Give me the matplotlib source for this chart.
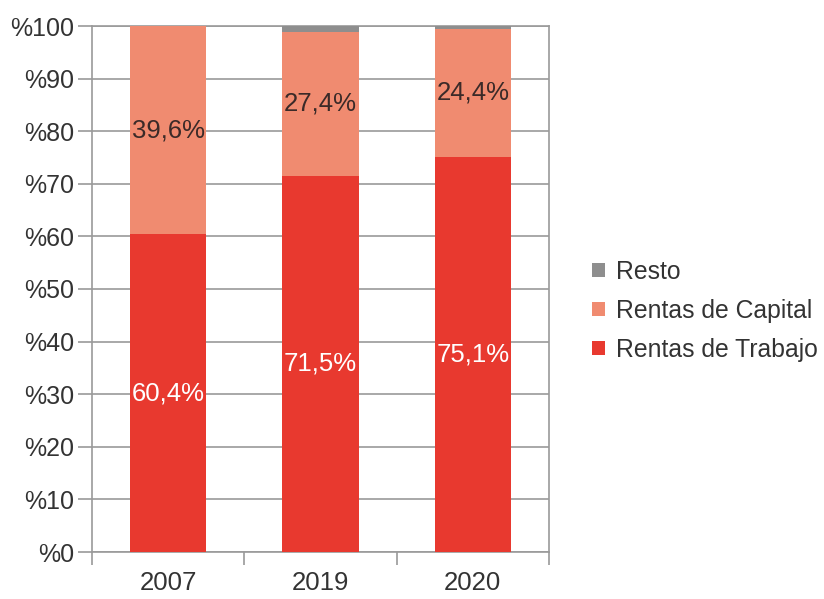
import numpy as np
import matplotlib.pyplot as plt

plt.rcParams['font.family'] = ['Liberation Sans', 'DejaVu Sans']

years = ['2007', '2019', '2020']
trabajo = [60.4, 71.5, 75.1]
capital = [39.6, 27.4, 24.4]
resto = [0.0, 1.1, 0.5]

c_trab = '#e8392f'
c_cap = '#f08b70'
c_resto = '#8e8e8e'
grid_c = '#9a9a9a'
txt_c = '#333333'

fig = plt.figure(figsize=(8.24, 5.99), dpi=100)
ax = fig.add_axes([92/824, 1 - 552/599, (549 - 92)/824, (552 - 26)/599])

x = np.arange(len(years))
trab = np.array(trabajo)
cap = np.array(capital)
res = np.array(resto)

b1 = ax.bar(x, trab, width=0.5, color=c_trab, label='Rentas de Trabajo', zorder=3)
b2 = ax.bar(x, cap, width=0.5, bottom=trab, color=c_cap, label='Rentas de Capital', zorder=3)
b3 = ax.bar(x, res, width=0.5, bottom=trab + cap, color=c_resto, label='Resto', zorder=3)

# value labels in the middle of each segment
for i in range(len(years)):
    ax.text(x[i], trab[i] / 2, f"{trabajo[i]:.1f}%".replace('.', ','),
            ha='center', va='center', color='white', fontsize=18.5, zorder=4)
    ax.text(x[i], trab[i] + cap[i] / 2, f"{capital[i]:.1f}%".replace('.', ','),
            ha='center', va='center', color='#3b2a28', fontsize=18.5, zorder=4)

ax.set_xlim(-0.5, 2.5)
ax.set_ylim(0, 100)
ax.set_yticks(np.arange(0, 101, 10))
ax.set_yticklabels(['%' + str(v) for v in range(0, 101, 10)])
ax.yaxis.grid(True, color=grid_c, linewidth=1.2, zorder=0)

# x ticks sit between the categories, labels centered under bars
ax.set_xticks([-0.5, 0.5, 1.5, 2.5])
ax.set_xticklabels([])
ax.set_xticks(x, minor=True)
ax.set_xticklabels(years, minor=True)
ax.tick_params(axis='x', which='minor', length=0, labelsize=18.5, pad=14, labelcolor=txt_c)
ax.tick_params(axis='x', which='major', length=9, width=1.2, color=grid_c)
ax.tick_params(axis='y', length=10, width=1.2, color=grid_c, labelsize=18, pad=3, labelcolor=txt_c)

for s in ax.spines.values():
    s.set_color(grid_c)
    s.set_linewidth(1.2)

handles = [b3, b2, b1]
leg = fig.legend(handles, [h.get_label() for h in handles], loc='center left',
                 bbox_to_anchor=(570/824, 1 - 311/599), frameon=False, fontsize=17.8,
                 handlelength=0.5, handleheight=0.5, handletextpad=0.45,
                 labelspacing=0.6, labelcolor=txt_c)

fig.savefig('out.png', dpi=100)
